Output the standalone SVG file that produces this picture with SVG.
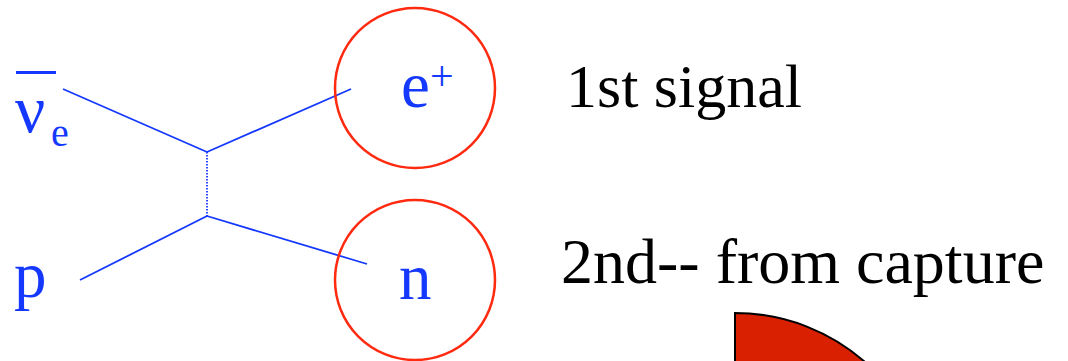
<svg xmlns="http://www.w3.org/2000/svg" width="1068" height="361" viewBox="0 0 1068 361">
<style>
.ln{stroke:#1538ff;stroke-width:1.8;fill:none}
.dot{stroke:#1538ff;stroke-width:1.8;stroke-dasharray:1.5 1.5;fill:none}
.ring{stroke:#ff2a10;stroke-width:2.5;fill:none}
.pt{fill:#1538ff}
.lbl{fill:#000}
</style>
<rect width="1068" height="361" fill="#fff"/>
<g id="connectors">
<line class="ln" x1="63" y1="89" x2="207" y2="152"/>
<line class="ln" x1="207" y1="152" x2="351" y2="89"/>
<line class="dot" x1="207" y1="152" x2="207" y2="216"/>
<line class="ln" x1="80" y1="280" x2="207" y2="216"/>
<line class="ln" x1="207" y1="216" x2="367" y2="264"/>
</g>
<g font-family="Liberation Serif">
<g id="antineutrino">
<rect x="16" y="71" width="40" height="3" fill="#1538ff"/>
<text class="pt" x="15" y="132" font-size="67">ν</text>
<text class="pt" x="51" y="146" font-size="40">e</text>
</g>
<g id="proton">
<text class="pt" x="14" y="297" font-size="65">p</text>
</g>
<g id="positron">
<circle class="ring" cx="415" cy="88" r="80"/>
<text class="pt" x="401" y="107" font-size="65">e</text>
<text class="pt" x="430" y="90" font-size="42">+</text>
</g>
<g id="neutron">
<circle class="ring" cx="415" cy="280" r="80"/>
<text class="pt" x="399" y="299" font-size="65">n</text>
</g>
<g id="labels">
<text class="lbl" x="566" y="107" font-size="62">1st signal</text>
<text class="lbl" x="561" y="283" font-size="64">2nd-- from capture</text>
</g>
</g>
<g id="capture">
<path d="M735,510 L735,313 A197,197 0 0 1 932,510 Z" fill="#d92000" stroke="#000" stroke-width="2"/>
</g>
</svg>
